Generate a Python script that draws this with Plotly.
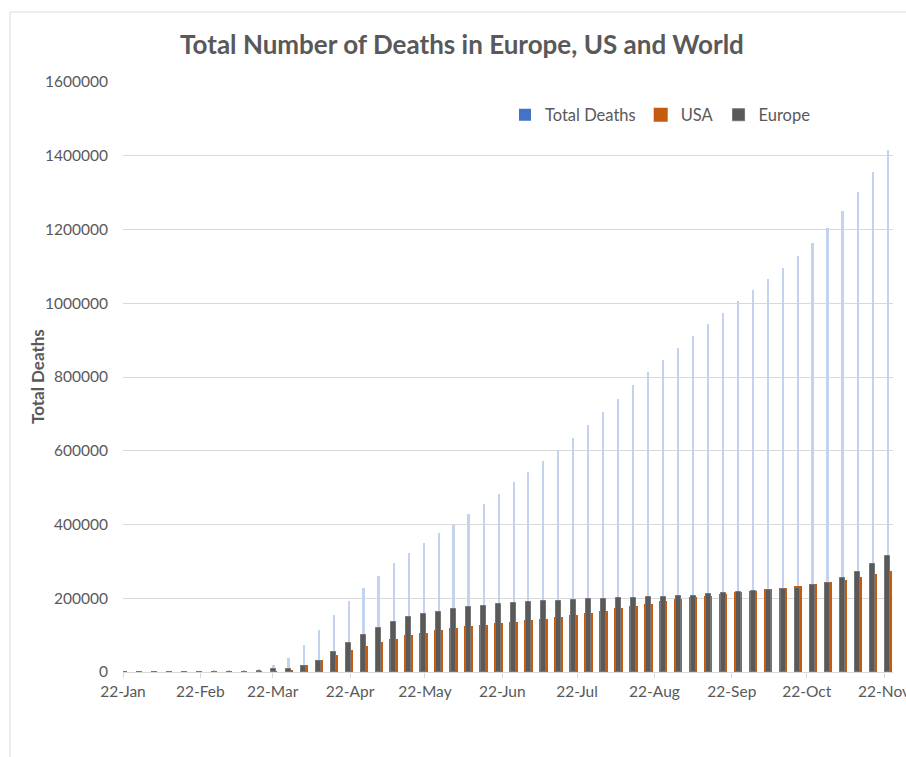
import plotly.graph_objects as go

# ---------------- data ----------------
dates = [
    "2020-01-22", "2020-01-28", "2020-02-03", "2020-02-09", "2020-02-15", "2020-02-21",
    "2020-02-27", "2020-03-04", "2020-03-10", "2020-03-16", "2020-03-22", "2020-03-28",
    "2020-04-03", "2020-04-09", "2020-04-15", "2020-04-21", "2020-04-27", "2020-05-03",
    "2020-05-09", "2020-05-15", "2020-05-21", "2020-05-27", "2020-06-02", "2020-06-08",
    "2020-06-14", "2020-06-20", "2020-06-26", "2020-07-02", "2020-07-08", "2020-07-14",
    "2020-07-20", "2020-07-26", "2020-08-01", "2020-08-07", "2020-08-13", "2020-08-19",
    "2020-08-25", "2020-08-31", "2020-09-06", "2020-09-12", "2020-09-18", "2020-09-24",
    "2020-09-30", "2020-10-06", "2020-10-12", "2020-10-18", "2020-10-24", "2020-10-30",
    "2020-11-05", "2020-11-11", "2020-11-17", "2020-11-23",
]

total_deaths = [
    17, 130, 430, 900, 1500, 2250, 2800, 3300, 4300, 8000, 19000, 38000,
    73000, 114000, 155000, 192000, 229000, 261000, 295000, 322000, 350000, 376000,
    399000, 428000, 455000, 484000, 514000, 543000, 572000, 603000, 634000, 669000,
    705000, 740000, 778000, 813000, 846000, 879000, 911000, 944000, 974000, 1006000,
    1036000, 1066000, 1096000, 1128000, 1163000, 1204000, 1250000, 1302000, 1356000,
    1416000,
]

usa = [
    0, 0, 0, 0, 0, 0, 0, 10, 30, 100, 500, 3000,
    16000, 30000, 43000, 58000, 68000, 79000, 88000, 97000, 104000, 111000,
    117000, 122000, 126000, 130000, 134000, 138000, 142000, 147000, 152000, 158000,
    164000, 171000, 177000, 183000, 189000, 195000, 200000, 203000, 208000, 214000,
    218000, 222000, 226000, 230000, 235000, 241000, 248000, 254000, 262000, 271000,
]

europe = [
    0, 0, 0, 0, 0, 0, 20, 100, 700, 2500, 7000, 9000,
    17000, 31000, 53000, 78000, 100000, 118000, 136000, 148000, 157000, 164000,
    170000, 175000, 180000, 184000, 187000, 190000, 192000, 193500, 195000, 197000,
    198000, 200000, 201500, 203000, 204000, 205000, 207000, 212000, 215000, 218000,
    219000, 222000, 226000, 229000, 235000, 242000, 256000, 270000, 292000, 315000,
]

tick_dates = [
    "2020-01-22", "2020-02-22", "2020-03-22", "2020-04-22", "2020-05-22", "2020-06-22",
    "2020-07-22", "2020-08-22", "2020-09-22", "2020-10-22", "2020-11-22",
]
tick_labels = [
    "22-Jan", "22-Feb", "22-Mar", "22-Apr", "22-May", "22-Jun",
    "22-Jul", "22-Aug", "22-Sep", "22-Oct", "22-Nov",
]
y_ticks = [0, 200000, 400000, 600000, 800000, 1000000, 1200000, 1400000, 1600000]

# ---------------- styling ----------------
W, H = 906, 757
L, R, T, B = 123, 13, 82, 85
PW, PH = W - L - R, H - T - B
DAY = 86400000
FONT = "Lato"
TXT = "#595959"
GRID = "#d9d9d9"

W_TOTAL, W_USA, W_EU = 0.8, 2.6, 2.0   # bar widths in days
SHIFT = 0.5                             # bars sit mid-day, as on the reference


def px_x(px):
    return (px - L) / PW


def px_y(py):
    return (H - B - py) / PH


fig = go.Figure()

# World total (thin bars)
fig.add_trace(go.Bar(
    x=dates, y=total_deaths, name="Total Deaths",
    marker=dict(color="#c3d2ee", line=dict(width=0)),
    width=W_TOTAL * DAY, offset=(SHIFT - W_TOTAL / 2) * DAY,
    showlegend=False,
))
# legend entry for the world total (solid swatch as in the reference)
fig.add_trace(go.Bar(
    x=[None], y=[None], name="Total Deaths",
    marker=dict(color="#4472C4", line=dict(width=0)),
    legendrank=1,
))
fig.add_trace(go.Bar(
    x=dates, y=usa, name="USA",
    marker=dict(color="#c55a11", line=dict(color="#c55a11", width=2)),
    width=W_USA * DAY, offset=(SHIFT - W_USA / 2) * DAY,
    legendrank=2,
))
fig.add_trace(go.Bar(
    x=dates, y=europe, name="Europe",
    marker=dict(color="#595959", line=dict(color="#767676", width=1)),
    width=W_EU * DAY, offset=(SHIFT - W_EU / 2) * DAY,
    legendrank=3,
))

fig.update_layout(
    width=W, height=H,
    margin=dict(l=L, r=R, t=T, b=B, autoexpand=False),
    paper_bgcolor="white", plot_bgcolor="white",
    barmode="overlay", bargap=0,
    font=dict(family=FONT, size=15, color=TXT),
    title=dict(
        text="<b>Total Number of Deaths in Europe, US and World</b>",
        font=dict(family=FONT, size=26, color=TXT),
        x=462 / W, xanchor="center", xref="container",
        y=1 - 45 / H, yanchor="middle", yref="container",
    ),
    legend=dict(
        orientation="h", x=px_x(816), xanchor="right",
        y=px_y(115), yanchor="middle",
        font=dict(family=FONT, size=16.5, color=TXT),
        itemwidth=30, bgcolor="rgba(0,0,0,0)",
        traceorder="normal",
    ),
    xaxis=dict(
        type="date",
        range=["2020-01-22", "2020-11-25 14:00"],
        tickmode="array", tickvals=tick_dates, ticktext=tick_labels,
        ticks="outside", ticklen=5, tickcolor=GRID, tickwidth=1,
        showline=True, linecolor=GRID, linewidth=1,
        showgrid=False, zeroline=False,
        tickfont=dict(family=FONT, size=15.5, color=TXT),
        ticklabeloverflow="allow",
    ),
    yaxis=dict(
        range=[0, 1600000],
        tickmode="array", tickvals=y_ticks,
        tickformat="d",
        showgrid=True, gridcolor=GRID, gridwidth=1,
        showline=False, zeroline=False, ticks="",
        ticklabelstandoff=14,
        tickfont=dict(family=FONT, size=15.5, color=TXT),
    ),
    annotations=[dict(
        text="<b>Total Deaths</b>", textangle=-90,
        x=px_x(37), y=0.5, xref="paper", yref="paper",
        xanchor="center", yanchor="middle", showarrow=False,
        font=dict(family=FONT, size=17, color=TXT),
    )],
    shapes=[
        dict(type="line", xref="paper", yref="paper",
             x0=px_x(10), x1=px_x(10), y0=px_y(770), y1=px_y(12),
             line=dict(color=GRID, width=1)),
        dict(type="line", xref="paper", yref="paper",
             x0=px_x(10), x1=px_x(920), y0=px_y(12), y1=px_y(12),
             line=dict(color=GRID, width=1)),
    ],
)

fig.write_html("out.html")
